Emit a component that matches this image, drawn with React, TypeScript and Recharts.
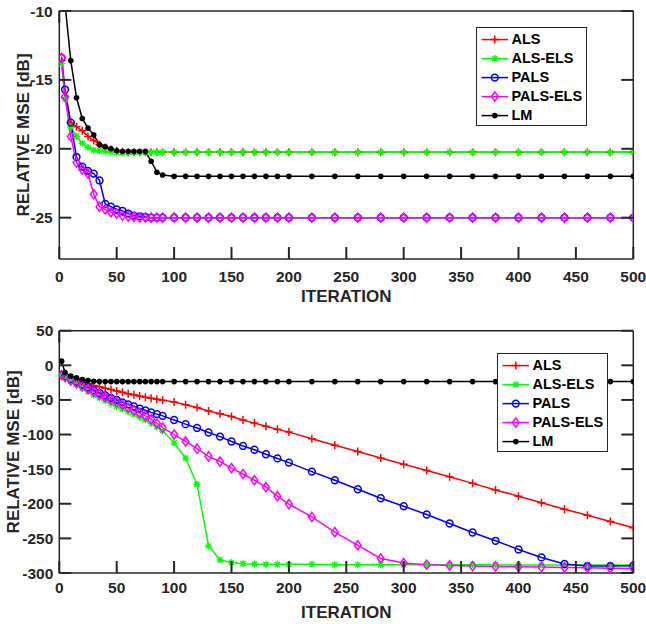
import React from 'react';
import { LineChart, Line, XAxis, YAxis, Legend } from 'recharts';

const FONT = '"Liberation Sans", Arial, Helvetica, sans-serif';
const AXIS = '#262626';
const TICK_LEN = 12;

const iterations = [2, 5, 10, 15, 20, 25, 30, 35, 40, 45, 50, 55, 60, 65, 70, 75, 80, 85, 90,
  100, 110, 120, 130, 140, 150, 160, 170, 180, 190, 200,
  220, 240, 260, 280, 300, 320, 340, 360, 380, 400, 420, 440, 460, 480, 500];

const xTicks = [0, 50, 100, 150, 200, 250, 300, 350, 400, 450, 500];
const topYTicks = [-25, -20, -15, -10];
const bottomYTicks = [-300, -250, -200, -150, -100, -50, 0, 50];

const seriesNames = ['ALS', 'ALS-ELS', 'PALS', 'PALS-ELS', 'LM'];
const seriesKeys = ['als', 'alsEls', 'pals', 'palsEls', 'lm'];
const seriesColors = ['#ff0000', '#00ff00', '#0000ff', '#ff00ff', '#000000'];
const markerKinds = ['plus', 'star', 'circle', 'diamond', 'dot'];

// ---- top panel ----
const topAls = [-13.6, -16.3, -18.1, -18.4, -18.7, -19.1, -19.4, -19.7, -19.9, -20.05, -20.15, -20.2,
  -20.25, -20.25, -20.25, -20.25, -20.25, -20.25, -20.25,
  -20.25, -20.25, -20.25, -20.25, -20.25, -20.25, -20.25, -20.25, -20.25, -20.25, -20.25,
  -20.25, -20.25, -20.25, -20.25, -20.25, -20.25, -20.25, -20.25, -20.25, -20.25, -20.25, -20.25, -20.25, -20.25, -20.25];
const topAlsEls = [-13.8, -16.4, -18.4, -19.1, -19.6, -19.9, -20.1, -20.15, -20.2,
  -20.25, -20.25, -20.25, -20.25, -20.25, -20.25, -20.25, -20.25, -20.25, -20.25,
  -20.25, -20.25, -20.25, -20.25, -20.25, -20.25, -20.25, -20.25, -20.25, -20.25, -20.25,
  -20.25, -20.25, -20.25, -20.25, -20.25, -20.25, -20.25, -20.25, -20.25, -20.25, -20.25, -20.25, -20.25, -20.25, -20.25];
const topPals = [-13.4, -15.7, -18.1, -20.6, -21.3, -21.6, -21.8, -22.3, -24.0, -24.2, -24.4, -24.5, -24.7, -24.85, -24.9, -24.95,
  -25, -25, -25,
  -25, -25, -25, -25, -25, -25, -25, -25, -25, -25, -25,
  -25, -25, -25, -25, -25, -25, -25, -25, -25, -25, -25, -25, -25, -25, -25];
const topPalsEls = [-13.4, -16.2, -19.1, -21.0, -21.5, -21.8, -23.3, -24.2, -24.4, -24.6, -24.7, -24.85, -24.9, -24.95,
  -25, -25, -25, -25, -25,
  -25, -25, -25, -25, -25, -25, -25, -25, -25, -25, -25,
  -25, -25, -25, -25, -25, -25, -25, -25, -25, -25, -25, -25, -25, -25, -25];
const topLm = [-2, -9.5, -13.6, -16.3, -17.8, -18.5, -19.0, -19.7, -19.85, -20.0, -20.15, -20.2, -20.2, -20.2, -20.2, -20.2, -20.9, -21.7, -21.9,
  -22, -22, -22, -22, -22, -22, -22, -22, -22, -22, -22,
  -22, -22, -22, -22, -22, -22, -22, -22, -22, -22, -22, -22, -22, -22, -22];

// ---- bottom panel ----
const botAls = [-14, -16, -19, -21.5, -24, -26.5, -29, -31, -33, -35, -37, -39, -41, -42.5, -44.5, -46, -47.5, -49, -50.5,
  -53, -57, -61, -66, -70, -74, -79, -83.5, -88, -92.5, -96.5,
  -106, -115.5, -124.5, -134, -143, -152, -161, -170.5, -180, -189, -198.5, -208, -216.5, -225.5, -234.5];
const botAlsEls = [-14, -18, -23, -28, -33, -38, -43, -47, -51, -55, -59, -63, -67, -71, -75, -79, -84, -89, -95,
  -112, -134, -172, -261, -281, -285, -286.5, -287, -287.5, -287.5, -287.5,
  -287.5, -288, -288, -288, -288, -288, -288, -288, -288, -288.5, -288.5, -288.5, -288.5, -288.5, -288.5];
const botPals = [-14, -16, -20, -24, -28, -32, -36, -40, -43.5, -47, -50, -53.5, -56.5, -59.5, -62.5, -65, -68, -70.5, -73,
  -79, -85, -90.5, -97, -103, -110, -116.5, -122, -128.5, -134.5, -140.5,
  -153.5, -166, -179, -192, -203.5, -215.5, -228.5, -241.5, -253.5, -266, -277.5, -287, -290, -290, -289.5];
const botPalsEls = [-14, -17, -22, -26, -30, -34, -38, -42, -46, -49.5, -53, -57, -61, -65, -69, -73, -78, -84, -90,
  -100, -110, -120.5, -131.5, -139, -148.5, -157, -166, -176, -189, -200.5,
  -219, -241, -260, -279, -285.5, -288, -289, -290, -290.5, -291, -291.5, -292, -292.5, -293, -293.5];
const botLm = [6, -10.5, -15.5, -18, -20.5, -22, -23, -23.5, -23.5, -23.5, -23.5, -23.5, -23.5, -23.5, -23.5, -23.5, -23.5, -23.5, -23.5,
  -23.5, -23.5, -23.5, -23.5, -23.5, -23.5, -23.5, -23.5, -23.5, -23.5, -23.5,
  -23.5, -23.5, -23.5, -23.5, -23.5, -23.5, -23.5, -23.5, -23.5, -23.5, -23.5, -23.5, -23.5, -23.5, -23.5];

function buildRows(series: number[][]) {
  return iterations.map((it, i) => {
    const row: Record<string, number> = { it };
    seriesKeys.forEach((k, s) => { row[k] = series[s][i]; });
    return row;
  });
}

const topRows = buildRows([topAls, topAlsEls, topPals, topPalsEls, topLm]);
const botRows = buildRows([botAls, botAlsEls, botPals, botPalsEls, botLm]);

function Marker({ kind, cx, cy, color }: { kind: string; cx: number; cy: number; color: string }) {
  if (cx == null || cy == null || isNaN(cx) || isNaN(cy)) return <g />;
  switch (kind) {
    case 'plus':
      return <path d={`M${cx - 4},${cy}H${cx + 4}M${cx},${cy - 4}V${cy + 4}`} stroke={color} strokeWidth={1.5} fill="none" />;
    case 'star':
      return (
        <path
          d={`M${cx - 3.5},${cy}H${cx + 3.5}M${cx},${cy - 3.5}V${cy + 3.5}M${cx - 2.6},${cy - 2.6}L${cx + 2.6},${cy + 2.6}M${cx - 2.6},${cy + 2.6}L${cx + 2.6},${cy - 2.6}`}
          stroke={color} strokeWidth={1.3} fill="none" />
      );
    case 'circle':
      return <circle cx={cx} cy={cy} r={3.4} stroke={color} strokeWidth={1.5} fill="none" />;
    case 'diamond':
      return <path d={`M${cx},${cy - 4.6}L${cx + 3.4},${cy}L${cx},${cy + 4.6}L${cx - 3.4},${cy}Z`} stroke={color} strokeWidth={1.5} fill="none" />;
    default:
      return <circle cx={cx} cy={cy} r={2.8} fill={color} stroke="none" />;
  }
}

function LegendBox() {
  return (
    <div style={{ position: 'relative', width: 111, height: 99, boxSizing: 'border-box', border: `1.5px solid ${AXIS}`, background: '#fff' }}>
      {seriesNames.map((name, i) => (
        <div key={name} style={{ position: 'absolute', left: 0, top: 1.5 + i * 19.2, height: 19.2, width: 108 }}>
          <svg width={34} height={19.2} style={{ position: 'absolute', left: 0, top: 0 }}>
            <line x1={4.5} x2={31} y1={9.6} y2={9.6} stroke={seriesColors[i]} strokeWidth={1.5} />
            <Marker kind={markerKinds[i]} cx={17.8} cy={9.6} color={seriesColors[i]} />
          </svg>
          <span style={{ position: 'absolute', left: 34.5, top: 0, lineHeight: '19.2px', fontFamily: FONT, fontWeight: 'bold', fontSize: 14.5, color: '#000', whiteSpace: 'nowrap' }}>{name}</span>
        </div>
      ))}
    </div>
  );
}

const labelStyle = { fill: AXIS, fontSize: 17, fontWeight: 'bold', fontFamily: FONT };
const tickText = { fill: AXIS, fontSize: 15.5, fontWeight: 'bold', fontFamily: FONT };
const axisLineStyle = { stroke: AXIS, strokeWidth: 1.5 };
const TICK_W = 2;

// Tick renderer: an inward tick mark at the position Recharts computed, plus an optional label.
function makeTick(side: string, withLabel: boolean, gap: number) {
  return (props: any) => {
    const { x, y, payload } = props;
    let line: any = null;
    let label: any = null;
    if (side === 'bottom') {
      line = <line x1={x} x2={x} y1={y} y2={y - TICK_LEN} stroke={AXIS} strokeWidth={TICK_W} />;
      if (withLabel) label = <text x={x} y={y + gap} textAnchor="middle" {...tickText}>{payload.value}</text>;
    } else if (side === 'top') {
      line = <line x1={x} x2={x} y1={y} y2={y + TICK_LEN} stroke={AXIS} strokeWidth={TICK_W} />;
    } else if (side === 'left') {
      line = <line x1={x} x2={x + TICK_LEN} y1={y} y2={y} stroke={AXIS} strokeWidth={TICK_W} />;
      if (withLabel) label = <text x={x - gap} y={y + 5.5} textAnchor="end" {...tickText}>{payload.value}</text>;
    } else {
      line = <line x1={x} x2={x - TICK_LEN} y1={y} y2={y} stroke={AXIS} strokeWidth={TICK_W} />;
    }
    return <g>{line}{label}</g>;
  };
}

function Panel({ rows, height, marginTop, xAxisHeight, yDomain, yTicks, xLabelGap, yLabelGap, xLabelOffset, yLabelX, legendLeft, legendTop }: any) {
  return (
    <LineChart width={646} height={height} data={rows} margin={{ top: marginTop, right: 11.7, bottom: 0, left: 0 }}>
      <XAxis dataKey="it" type="number" domain={[0, 500]} ticks={xTicks} interval={0} allowDataOverflow
        height={xAxisHeight} tickSize={0} tickMargin={0} tickLine={false} tick={makeTick('bottom', true, xLabelGap)}
        axisLine={axisLineStyle}
        label={{ value: 'ITERATION', position: 'insideBottom', offset: xLabelOffset, ...labelStyle }} />
      <XAxis xAxisId="top" orientation="top" type="number" domain={[0, 500]} ticks={xTicks} interval={0} allowDataOverflow
        height={1} tickSize={0} tickMargin={0} tickLine={false} tick={makeTick('top', false, 0)}
        axisLine={axisLineStyle} />
      <YAxis type="number" domain={yDomain} ticks={yTicks} interval={0} allowDataOverflow
        width={59.3} tickSize={0} tickMargin={0} tickLine={false} tick={makeTick('left', true, yLabelGap)}
        axisLine={axisLineStyle}
        label={{ value: 'RELATIVE MSE [dB]', angle: -90, position: 'insideLeft', offset: yLabelX, style: { textAnchor: 'middle' }, ...labelStyle }} />
      <YAxis yAxisId="right" orientation="right" type="number" domain={yDomain} ticks={yTicks} interval={0} allowDataOverflow
        width={1} tickSize={0} tickMargin={0} tickLine={false} tick={makeTick('right', false, 0)}
        axisLine={axisLineStyle} />
      {seriesKeys.map((k, i) => (
        <Line key={k} type="linear" dataKey={k} name={seriesNames[i]} stroke={seriesColors[i]} strokeWidth={1.5}
          isAnimationActive={false} activeDot={false}
          dot={(p: any) => <Marker key={`${k}-${p.index}`} kind={markerKinds[i]} cx={p.cx} cy={p.cy} color={seriesColors[i]} />} />
      ))}
      <Legend layout="vertical" align="center" verticalAlign="middle" content={() => <LegendBox />}
        wrapperStyle={{ left: legendLeft, top: legendTop, width: 111, height: 99 }} />
    </LineChart>
  );
}

export default function App() {
  return (
    <div style={{ position: 'absolute', left: 0, top: 0, width: 646, height: 624, background: '#fff' }}>
      <div style={{ position: 'absolute', left: 0, top: 0 }}>
        <Panel rows={topRows} height={310} marginTop={10} xAxisHeight={51} yDomain={[-28, -10]} yTicks={topYTicks}
          xLabelGap={22.7} yLabelGap={6.6} xLabelOffset={7.8} yLabelX={23} legendLeft={476} legendTop={27} />
      </div>
      <div style={{ position: 'absolute', left: 0, top: 310 }}>
        <Panel rows={botRows} height={314} marginTop={19.7} xAxisHeight={51} yDomain={[-300, 50]} yTicks={bottomYTicks}
          xLabelGap={20.3} yLabelGap={6} xLabelOffset={6} yLabelX={13} legendLeft={497} legendTop={43} />
      </div>
    </div>
  );
}
